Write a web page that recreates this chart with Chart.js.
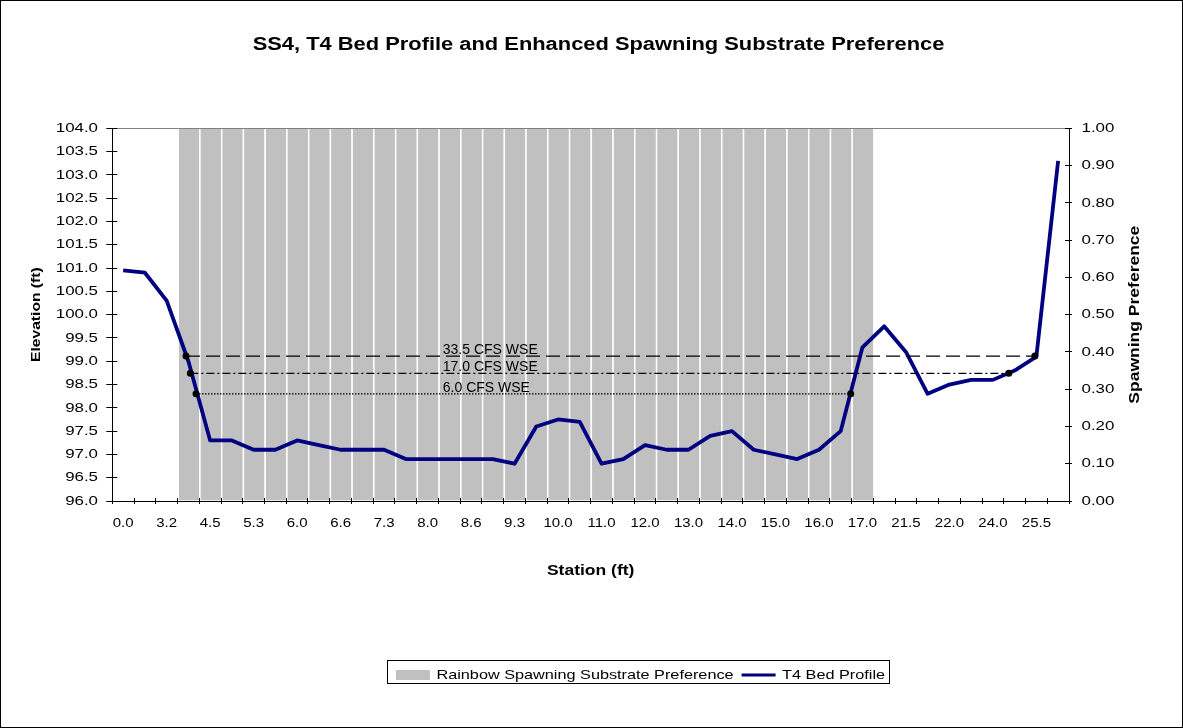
<!DOCTYPE html>
<html>
<head>
<meta charset="utf-8">
<title>SS4, T4 Bed Profile</title>
<script src="https://cdn.jsdelivr.net/npm/chart.js@4.4.0/dist/chart.umd.min.js"></script>
<style>
  html, body { margin: 0; padding: 0; background: #fff; }
  canvas { display: block; }
</style>
</head>
<body>
<canvas id="profileChart" width="1183" height="728"></canvas>
<script>
// Station tick labels (only every other station gets a label)
const stationTicks = ["0.0", "3.2", "4.5", "5.3", "6.0", "6.6", "7.3", "8.0", "8.6", "9.3", "10.0",
                      "11.0", "12.0", "13.0", "14.0", "15.0", "16.0", "17.0", "21.5", "22.0", "24.0", "25.5"];
const stations = stationTicks.flatMap(s => [s, ""]);

// T4 bed elevation (ft)
const bedProfile = [100.95, 100.9, 100.3, 99.0, 97.3, 97.3, 97.1, 97.1, 97.3, 97.2, 97.1,
                    97.1, 97.1, 96.9, 96.9, 96.9, 96.9, 96.9, 96.8, 97.6, 97.75, 97.7,
                    96.8, 96.9, 97.2, 97.1, 97.1, 97.4, 97.5, 97.1, 97.0, 96.9, 97.1,
                    97.5, 99.3, 99.75, 99.2, 98.3, 98.5, 98.6, 98.6, 98.8, 99.1, 103.3];

// Rainbow spawning substrate preference
const spawningPref = [0, 0, 0, 1, 1, 1, 1, 1, 1, 1, 1,
                      1, 1, 1, 1, 1, 1, 1, 1, 1, 1, 1,
                      1, 1, 1, 1, 1, 1, 1, 1, 1, 1, 1,
                      1, 1, 0, 0, 0, 0, 0, 0, 0, 0, 0];

// Water surface elevations and where they meet the banks (station index)
const wseLabels = ["33.5 CFS WSE", "17.0 CFS WSE", "6.0 CFS WSE"];
const wseLevels = [99.11, 98.74, 98.30];
const wseFrom = [2.89, 3.09, 3.35];
const wseTo = [41.93, 40.73, 33.46];

const FONT = '"Liberation Sans", Arial, sans-serif';
const TEXT_STRETCH = 1.25;
const WSE_LABEL_AT = 14.7;
const LEGEND_DX = 42;

const canvas = document.getElementById("profileChart");
const ctx = canvas.getContext("2d");

// chart text is drawn a bit wider than the plain font
const plainFillText = ctx.fillText.bind(ctx);
const plainMeasure = ctx.measureText.bind(ctx);
ctx.fillText = function (text, x, y, maxWidth) {
  this.save();
  this.translate(x, y);
  this.scale(TEXT_STRETCH, 1);
  if (maxWidth === undefined) plainFillText(text, 0, 0);
  else plainFillText(text, 0, 0, maxWidth / TEXT_STRETCH);
  this.restore();
};
ctx.measureText = function (text) {
  const m = plainMeasure(text);
  return {
    width: m.width * TEXT_STRETCH,
    actualBoundingBoxLeft: m.actualBoundingBoxLeft * TEXT_STRETCH,
    actualBoundingBoxRight: m.actualBoundingBoxRight * TEXT_STRETCH,
    actualBoundingBoxAscent: m.actualBoundingBoxAscent,
    actualBoundingBoxDescent: m.actualBoundingBoxDescent
  };
};

Chart.defaults.font.family = FONT;
Chart.defaults.color = "#000";

const wseDashes = [[14, 6], [8, 3, 2, 3], [1.5, 1.5]];

const wseDatasets = wseLabels.map((label, i) => ({
  type: "line",
  label: label,
  data: [{ x: wseFrom[i], y: wseLevels[i] }, { x: wseTo[i], y: wseLevels[i] }],
  xAxisID: "xw",
  yAxisID: "y",
  borderColor: "#000",
  borderWidth: 1.3,
  borderDash: wseDashes[i],
  pointRadius: 3.5,
  pointBackgroundColor: "#000",
  pointBorderWidth: 0,
  order: 0
}));

// legend sits right of centre
const legendShift = {
  id: "legendShift",
  afterLayout(chart) {
    chart.legend.left += LEGEND_DX;
    chart.legend.right += LEGEND_DX;
  }
};

const decorations = {
  id: "decorations",
  afterDraw(chart) {
    const { ctx, chartArea: a, scales } = chart;
    const align = p => Math.round(p - 0.5) + 0.5;
    ctx.save();

    // grey top edge of the plot area
    ctx.lineWidth = 1;
    ctx.strokeStyle = "#808080";
    ctx.beginPath();
    ctx.moveTo(a.left, align(a.top));
    ctx.lineTo(a.right, align(a.top));
    ctx.stroke();

    // inner halves of the cross tick marks
    ctx.strokeStyle = "#000";
    ctx.beginPath();
    const x = scales.x;
    const step = (x.right - x.left) / stations.length;
    for (let i = 0; i <= stations.length; i++) {
      const px = align(x.left + i * step);
      ctx.moveTo(px, a.bottom);
      ctx.lineTo(px, a.bottom - 3);
    }
    scales.y.ticks.forEach(t => {
      const py = align(scales.y.getPixelForValue(t.value));
      ctx.moveTo(a.left, py);
      ctx.lineTo(a.left + 5, py);
    });
    scales.y1.ticks.forEach(t => {
      const py = align(scales.y1.getPixelForValue(t.value));
      ctx.moveTo(a.right, py);
      ctx.lineTo(a.right - 4, py);
    });
    ctx.stroke();

    // WSE labels
    ctx.font = "14px " + FONT;
    ctx.fillStyle = "#000";
    ctx.textAlign = "left";
    ctx.textBaseline = "alphabetic";
    wseLabels.forEach((txt, i) => {
      plainFillText(txt, scales.xw.getPixelForValue(WSE_LABEL_AT), scales.y.getPixelForValue(wseLevels[i]) - 2);
    });

    // right axis title, reading bottom to top
    ctx.save();
    ctx.font = "bold 14px " + FONT;
    ctx.textAlign = "center";
    ctx.textBaseline = "middle";
    ctx.translate(scales.y1.left + 66, (a.top + a.bottom) / 2);
    ctx.rotate(-Math.PI / 2);
    ctx.fillText("Spawning Preference", 0, 0);
    ctx.restore();

    // legend frame
    const lg = chart.legend;
    const boxes = lg.legendHitBoxes;
    if (boxes.length) {
      const first = boxes[0];
      const last = boxes[boxes.length - 1];
      const left = align(first.left - 8);
      const right = align(last.left + last.width + 4);
      ctx.strokeStyle = "#000";
      ctx.strokeRect(left, align(lg.top), right - left, 23);
    }

    // outer frame
    ctx.strokeStyle = "#000";
    ctx.strokeRect(0.5, 0.5, chart.width - 1, chart.height - 1);
    ctx.restore();
  }
};

new Chart(ctx, {
  type: "bar",
  data: {
    labels: stations,
    datasets: [
      {
        label: "Rainbow Spawning Substrate Preference",
        data: spawningPref,
        yAxisID: "y1",
        backgroundColor: "#c0c0c0",
        borderColor: "#fff",
        borderWidth: { left: 1.4, right: 0, top: 0, bottom: 0 },
        borderSkipped: false,
        inflateAmount: 0,
        grouped: false,
        barPercentage: 1,
        categoryPercentage: 1,
        order: 2
      },
      {
        type: "line",
        label: "T4 Bed Profile",
        data: bedProfile,
        yAxisID: "y",
        borderColor: "#000080",
        backgroundColor: "#000080",
        borderWidth: 3.8,
        borderJoinStyle: "round",
        pointRadius: 0,
        tension: 0,
        order: 1
      },
      ...wseDatasets
    ]
  },
  options: {
    responsive: false,
    devicePixelRatio: 1,
    animation: false,
    events: [],
    layout: { padding: { left: 14, right: 0, top: 0, bottom: 36.5 } },
    plugins: {
      title: {
        display: true,
        text: "SS4, T4 Bed Profile and Enhanced Spawning Substrate Preference",
        color: "#000",
        font: { size: 17.5, weight: "bold" },
        padding: { top: 35, bottom: 72.3 }
      },
      legend: {
        position: "bottom",
        labels: {
          usePointStyle: true,
          pointStyleWidth: 34,
          boxHeight: 10,
          padding: 8,
          color: "#000",
          font: { size: 13 },
          generateLabels(chart) {
            return Chart.defaults.plugins.legend.labels.generateLabels(chart)
              .filter(item => item.datasetIndex < 2)
              .sort((p, q) => p.datasetIndex - q.datasetIndex)
              .map(item => Object.assign(item, {
                pointStyle: item.datasetIndex === 0 ? "rect" : "line",
                lineWidth: item.datasetIndex === 0 ? 0 : 3
              }));
          }
        }
      },
      tooltip: { enabled: false }
    },
    scales: {
      x: {
        type: "category",
        offset: true,
        z: 1,
        grid: { offset: true, drawOnChartArea: false, tickLength: 3, color: "#000" },
        border: { color: "#000" },
        ticks: { autoSkip: false, maxRotation: 0, minRotation: 0, padding: 12.5, font: { size: 12 } },
        title: {
          display: true,
          text: "Station (ft)",
          font: { size: 14, weight: "bold" },
          padding: { top: 0, bottom: 81 }
        },
        afterFit: s => { s.height = 159.5; }
      },
      xw: {
        type: "linear",
        display: false,
        offset: false,
        min: -0.5,
        max: stations.length - 0.5,
        grid: { offset: false }
      },
      y: {
        type: "linear",
        position: "left",
        min: 96,
        max: 104,
        z: 1,
        grid: { drawOnChartArea: false, tickLength: 6, color: "#000" },
        border: { color: "#000" },
        ticks: { stepSize: 0.5, padding: 8.3, font: { size: 13.5 }, callback: v => v.toFixed(1) },
        title: {
          display: true,
          text: "Elevation (ft)",
          font: { size: 12.5, weight: "bold" },
          padding: { top: 15.2, bottom: 0 }
        },
        afterFit: s => { s.width = 98.3; }
      },
      y1: {
        type: "linear",
        position: "right",
        min: 0,
        max: 1,
        z: 1,
        grid: { drawOnChartArea: false, tickLength: 3, color: "#000" },
        border: { color: "#000" },
        ticks: { stepSize: 0.1, padding: 9.5, font: { size: 13.5 }, callback: v => v.toFixed(2) },
        afterFit: s => { s.width = 114; }
      }
    }
  },
  plugins: [legendShift, decorations]
});
</script>
</body>
</html>
